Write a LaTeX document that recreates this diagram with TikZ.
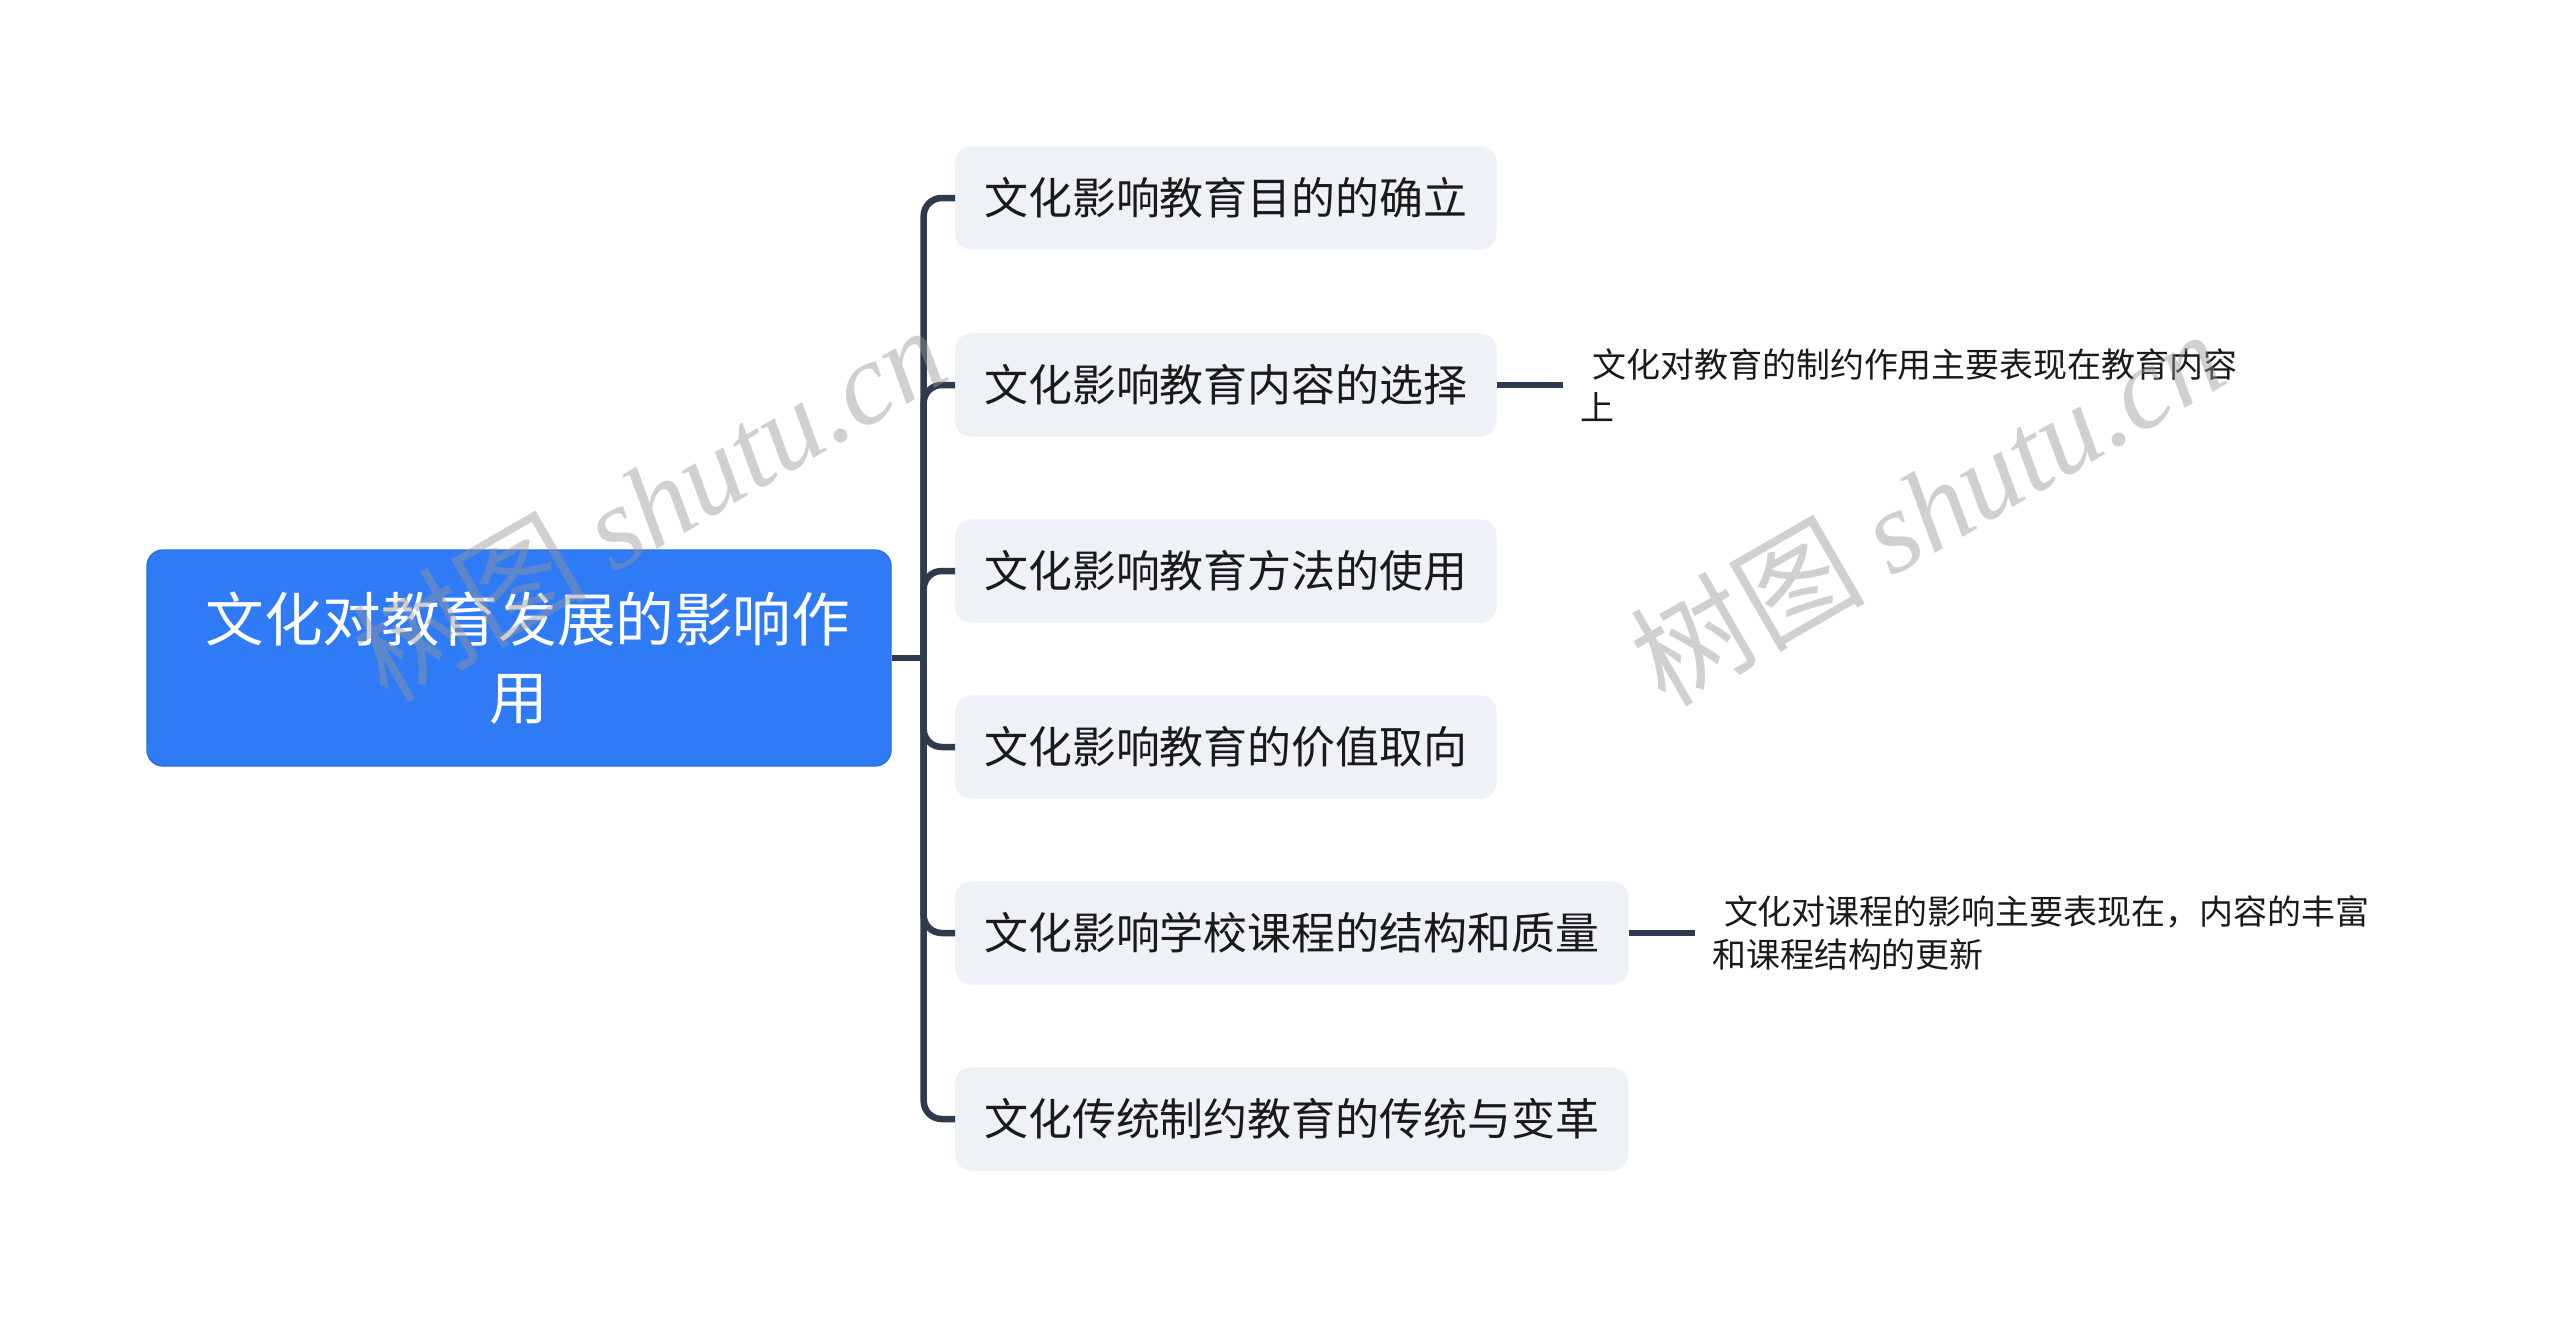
\documentclass[tikz,border=0pt]{standalone}
\usepackage{fontspec}
\setmainfont{Noto Sans CJK SC}
\newfontfamily\wmlatin{Liberation Serif}
\usetikzlibrary{positioning}

\definecolor{rootblue}{HTML}{2F7BF6}
\definecolor{rootedge}{HTML}{2A6FE0}
\definecolor{topicgray}{HTML}{EEF1F5}
\definecolor{linkslate}{HTML}{2E3B4E}
\definecolor{inkblack}{HTML}{1A1A1A}
\definecolor{wmgray}{HTML}{969696}

\begin{document}
\begin{tikzpicture}[x=0.3mm, y=-0.3mm, node distance=20mm,
    root/.style={draw=rootedge, line width=0.4mm, fill=rootblue, rounded corners=4.8mm, text=white, align=center, minimum width=223.2mm, minimum height=64.8mm, inner sep=0pt, font=\fontsize{50pt}{67pt}\selectfont},
    topic/.style={fill=topicgray, rounded corners=4.8mm, anchor=west, minimum height=31mm, inner xsep=8.7mm, inner ysep=0pt, text=inkblack, font=\fontsize{37.5pt}{45pt}\selectfont},
    note/.style={align=left, inner xsep=5mm, inner ysep=0pt, text=inkblack, font=\fontsize{29pt}{37pt}\selectfont},
    link/.style={draw=linkslate, line width=1.95mm, rounded corners=5.4mm},
    wmark/.style={text=wmgray, text opacity=0.45, rotate=30, font=\fontsize{100pt}{100pt}\selectfont}]
    \useasboundingbox (0,0) rectangle (2560,1317);

    \node [root] (root) at (519,658) {\hspace*{0.3em}文化对教育发展的影响作\\用};

    \node [topic] (b1) at (955,198) {文化影响教育目的的确立};
    \node [topic] (b2) at (955,385) {文化影响教育内容的选择};
    \node [topic] (b3) at (955,571) {文化影响教育方法的使用};
    \node [topic] (b4) at (955,747) {文化影响教育的价值取向};
    \node [topic] (b5) at (955,933) {文化影响学校课程的结构和质量};
    \node [topic] (b6) at (955,1119) {文化传统制约教育的传统与变革};

    \node [note, right=of b2] (n2) {\hspace*{0.35em}文化对教育的制约作用主要表现在教育内容\\上};
    \node [note, right=of b5] (n5) {\hspace*{0.35em}文化对课程的影响主要表现在，内容的丰富\\和课程结构的更新};

    \coordinate (hub) at ([xshift=9.6mm]root.east);
    \draw [link] (root.east) -- (hub);
    \foreach \t in {b1,b2,b3,b4,b5,b6}
        \draw [link] (hub) |- (\t.west);
    \draw [link] (b2.east) -- (n2.west);
    \draw [link] (b5.east) -- (n5.west);

    \node [wmark] (wm1) at (649,502) {树图 {\wmlatin\itshape shutu.cn}};
    \node [wmark] (wm2) at (1927,506) {树图 {\wmlatin\itshape shutu.cn}};
\end{tikzpicture}
\end{document}
